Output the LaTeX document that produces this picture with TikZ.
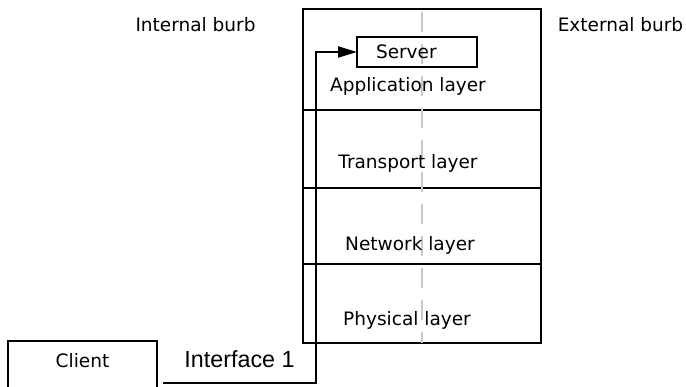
\documentclass[tikz,border=0pt]{standalone}
\usepackage{fontspec}
\newfontfamily\burbfont{DejaVu Sans}
\newfontfamily\ifacefont{Liberation Sans}
\usetikzlibrary{arrows.meta, positioning}
\definecolor{linedark}{HTML}{000000}
\definecolor{splitgray}{HTML}{C8C8C8}

\begin{document}
\begin{tikzpicture}[x=1pt, y=-1pt,
    % ── Node styles ──────────────────────────────────────────────────────
    base/.style={
        draw=linedark, line width=2.1pt, outer sep=0pt, inner sep=0pt
    },
    layerbox/.style={
        base, minimum width=238pt
    },
    serverbox/.style={
        base, minimum height=30pt, text width=82pt, inner xsep=19pt,
        align=left, font=\fontsize{18.5}{22}\selectfont\burbfont
    },
    clientbox/.style={
        base, minimum width=149pt, text height=27pt, text depth=23pt,
        align=center, font=\fontsize{18.5}{22}\selectfont\burbfont
    },
    layertext/.style={
        anchor=base, inner sep=0pt,
        font=\fontsize{18.5}{22}\selectfont\burbfont
    },
    burblabel/.style={
        layertext
    },
    iflabel/.style={
        above=12pt, inner sep=2pt,
        font=\fontsize{23.3}{27}\selectfont\ifacefont
    },
    % ── Line styles ──────────────────────────────────────────────────────
    arr/.style={
        -{Triangle[length=19pt, width=11pt]},
        line width=2.1pt, color=linedark
    },
    split/.style={
        draw=splitgray, line width=1.7pt, dash pattern=on 20pt off 12pt
    }
]
\useasboundingbox (0,0) rectangle (686,387);
\clip (0,0) rectangle (686,387);

% ═══════════════════════════════════════════════════════════════════════════
% Layer stack
% ═══════════════════════════════════════════════════════════════════════════
\node[layerbox, minimum height=101pt, anchor=north] (app) at (422,9) {};
\node[layerbox, minimum height=78pt, below=0pt of app] (transport) {};
\node[layerbox, minimum height=76pt, below=0pt of transport] (network) {};
\node[layerbox, minimum height=79pt, below=0pt of network] (physical) {};

% Split between the two burbs
\draw[split] ([yshift=-3pt]app.north) -- (physical.south);

% Layer names
\node[layertext] at ([xshift=-14pt, yshift=18pt]app.south) {Application layer};
\node[layertext] at ([xshift=-14pt, yshift=19pt]transport.south) {Transport layer};
\node[layertext] at ([xshift=-12pt, yshift=13pt]network.south) {Network layer};
\node[layertext] at ([xshift=-15pt, yshift=17pt]physical.south) {Physical layer};

% Server
\node[serverbox] (server) at (417,52) {Server};

% ═══════════════════════════════════════════════════════════════════════════
% Burbs and client
% ═══════════════════════════════════════════════════════════════════════════
\node[burblabel] (internal) at (195.5,32) {Internal burb};
\node[burblabel] (external) at (620.5,32) {External burb};

\node[clientbox, anchor=north] (client) at (82.5,341) {Client};

% ═══════════════════════════════════════════════════════════════════════════
% Interface
% ═══════════════════════════════════════════════════════════════════════════
\coordinate (ifstart) at (163,383);
\coordinate (ifbend) at (316,383);
\draw[arr] (ifstart) -- node[iflabel] {Interface 1} (ifbend) |- (server.west);

\end{tikzpicture}
\end{document}
